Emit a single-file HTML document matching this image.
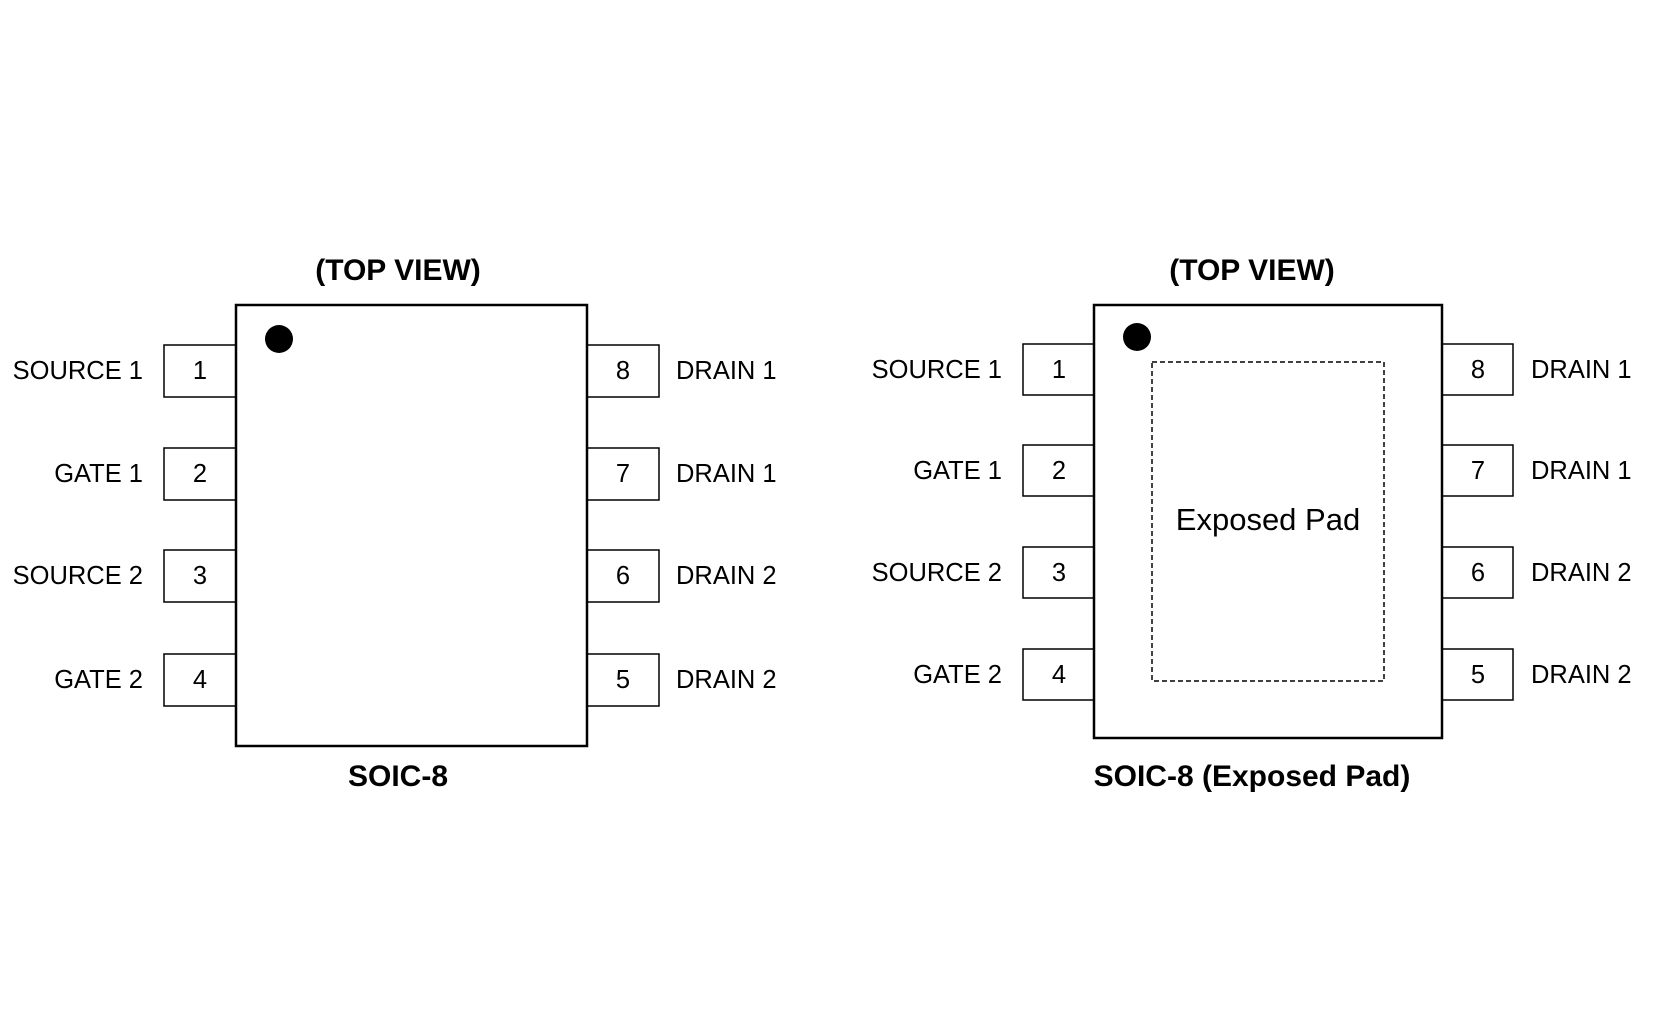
<!DOCTYPE html>
<html><head><meta charset="utf-8"><style>html,body{margin:0;padding:0;background:#fff}svg{display:block}</style></head><body>
<svg width="1654" height="1036" viewBox="0 0 1654 1036" xmlns="http://www.w3.org/2000/svg" font-family="'Liberation Sans', Arial, sans-serif">
<rect width="1654" height="1036" fill="#fff"/>
<g fill="#fff" stroke="#000">
<rect x="164" y="345" width="72" height="52" stroke-width="1.5"/>
<rect x="164" y="448" width="72" height="52" stroke-width="1.5"/>
<rect x="164" y="550" width="72" height="52" stroke-width="1.5"/>
<rect x="164" y="654" width="72" height="52" stroke-width="1.5"/>
<rect x="587" y="345" width="72" height="52" stroke-width="1.5"/>
<rect x="587" y="448" width="72" height="52" stroke-width="1.5"/>
<rect x="587" y="550" width="72" height="52" stroke-width="1.5"/>
<rect x="587" y="654" width="72" height="52" stroke-width="1.5"/>
<rect x="236" y="305" width="351" height="441" stroke-width="2.5"/>
</g>
<circle cx="279" cy="339" r="14" fill="#000"/>
<g transform="translate(-3,0)">
<g fill="#fff" stroke="#000">
<rect x="1026" y="344" width="71" height="51" stroke-width="1.5"/>
<rect x="1026" y="445" width="71" height="51" stroke-width="1.5"/>
<rect x="1026" y="547" width="71" height="51" stroke-width="1.5"/>
<rect x="1026" y="649" width="71" height="51" stroke-width="1.5"/>
<rect x="1445" y="344" width="71" height="51" stroke-width="1.5"/>
<rect x="1445" y="445" width="71" height="51" stroke-width="1.5"/>
<rect x="1445" y="547" width="71" height="51" stroke-width="1.5"/>
<rect x="1445" y="649" width="71" height="51" stroke-width="1.5"/>
<rect x="1097" y="305" width="348" height="433" stroke-width="2.5"/>
<rect x="1155" y="362" width="232" height="319" stroke-width="1.5" stroke-dasharray="5,3"/>
</g>
<circle cx="1140" cy="337" r="14" fill="#000"/>
<g font-size="25.5" fill="#000" text-anchor="middle">
<text x="1062" y="378">1</text><text x="1062" y="479">2</text><text x="1062" y="581">3</text><text x="1062" y="683">4</text>
<text x="1481" y="378">8</text><text x="1481" y="479">7</text><text x="1481" y="581">6</text><text x="1481" y="683">5</text>
</g>
<text x="1271" y="530" font-size="31" text-anchor="middle">Exposed Pad</text>
</g>
<g transform="translate(-3,0)">
<g font-size="25.5" fill="#000">
<g text-anchor="end">
<text x="146" y="379">SOURCE 1</text>
<text x="146" y="482">GATE 1</text>
<text x="146" y="584">SOURCE 2</text>
<text x="146" y="688">GATE 2</text>
</g>
<text x="679" y="379">DRAIN 1</text>
<text x="679" y="482">DRAIN 1</text>
<text x="679" y="584">DRAIN 2</text>
<text x="679" y="688">DRAIN 2</text>
<g text-anchor="middle">
<text x="203" y="379">1</text><text x="203" y="482">2</text><text x="203" y="584">3</text><text x="203" y="688">4</text>
<text x="626" y="379">8</text><text x="626" y="482">7</text><text x="626" y="584">6</text><text x="626" y="688">5</text>
</g>
</g>
</g>
<g font-size="25.5" fill="#000" transform="translate(-4,0)">
<g text-anchor="end">
<text x="1006" y="378">SOURCE 1</text>
<text x="1006" y="479">GATE 1</text>
<text x="1006" y="581">SOURCE 2</text>
<text x="1006" y="683">GATE 2</text>
</g>
<text x="1535" y="378">DRAIN 1</text>
<text x="1535" y="479">DRAIN 1</text>
<text x="1535" y="581">DRAIN 2</text>
<text x="1535" y="683">DRAIN 2</text>
</g>
<g font-size="30" font-weight="bold" text-anchor="middle">
<text x="398" y="280">(TOP VIEW)</text>
<text x="1252" y="280">(TOP VIEW)</text>
<text x="398" y="786">SOIC-8</text>
<text x="1252" y="786">SOIC-8 (Exposed Pad)</text>
</g>
</svg>
</body></html>
